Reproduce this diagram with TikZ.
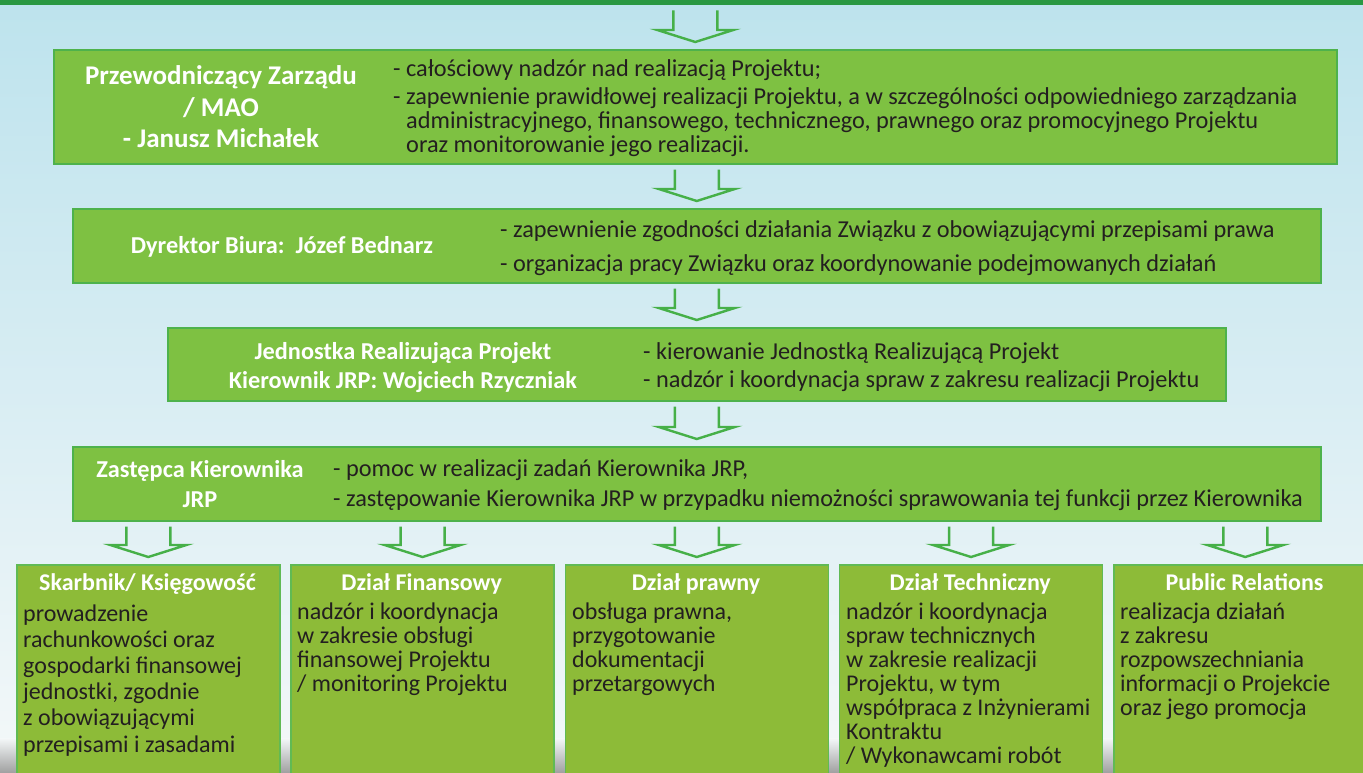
\documentclass[tikz,border=0pt]{standalone}
\usepackage{fontspec}
\setmainfont{Carlito}
\usetikzlibrary{calc}

\definecolor{boxgreen}{RGB}{126,193,66}
\definecolor{boxedge}{RGB}{78,178,76}
\definecolor{lowgreen}{RGB}{141,187,56}
\definecolor{lowedge}{RGB}{96,186,84}
\definecolor{arrowgreen}{RGB}{70,176,72}
\definecolor{bargreen}{RGB}{42,152,66}
\definecolor{darktext}{RGB}{35,31,32}
\definecolor{bgtop}{RGB}{189,227,237}
\definecolor{bgmid}{RGB}{216,237,243}
\definecolor{bgbottom}{RGB}{244,248,249}

% double-line arrow from one box down to the next
\newcommand{\flowarrow}[2]{%
  \draw[flow] ($(#2.north |- #1.south)+(-22,5)$) -- ($(#2.north)+(-22,-19)$) -- ++(-16,0)
    -- ($(#2.north)+(0,-7)$) -- ($(#2.north)+(38,-19)$) -- ++(-16,0)
    -- ($(#2.north |- #1.south)+(22,5)$);}

\begin{document}
\begin{tikzpicture}[x=1pt,y=-1pt,
    box/.style={draw=boxedge, line width=1.6pt, fill=boxgreen, inner sep=0pt, anchor=north west},
    lowbox/.style={box, draw=lowedge, fill=lowgreen, minimum width=263pt, minimum height=240pt},
    head/.style={anchor=base, align=center, text=white, inner sep=0pt},
    duty/.style={anchor=base west, align=left, text=darktext, inner sep=0pt, font=\fontsize{24.3}{24}\selectfont},
    lowhead/.style={anchor=base, text=white, inner sep=0pt, font=\bfseries\fontsize{24}{24}\selectfont},
    lowtext/.style={anchor=base west, align=left, text=darktext, inner sep=0pt, font=\fontsize{24}{24}\selectfont},
    flow/.style={draw=arrowgreen, line width=2.4pt, line join=miter}]
    \useasboundingbox (0,0) rectangle (1363,773);
    \clip (0,0) rectangle (1363,773);

    % background
    \shade[top color=bgtop, bottom color=bgbottom, middle color=bgmid] (0,0) rectangle (1363,773);
    \shade[top color=bgbottom, bottom color=gray!75] (0,738) rectangle (1363,773);
    \node[fill=bargreen, minimum width=1363pt, minimum height=5pt, inner sep=0pt, anchor=north west] (pasek) at (0,0) {};

    % main chain (multi-line texts sit on the baseline of their last line)
    \node[box, minimum width=1283pt, minimum height=114pt] (zarzad) at (53,49) {};
    \node[box, minimum width=1248pt, minimum height=74pt] (dyrektor) at (72,208) {};
    \node[box, minimum width=1058pt, minimum height=73pt] (jrp) at (167,327) {};
    \node[box, minimum width=1248pt, minimum height=74pt] (zastepca) at (72,446) {};

    \node[head, font=\bfseries\fontsize{27}{31.5}\selectfont] (zarzad-head) at (221,148) {Przewodniczący Zarządu\\/ MAO\\- Janusz Michałek};
    \node[duty] (zarzad-d1) at (393,77) {- całościowy nadzór nad realizacją Projektu;};
    \node[duty] (zarzad-d2) at (393,153) {- zapewnienie prawidłowej realizacji Projektu, a w szczególności odpowiedniego zarządzania\\
        \hspace*{13pt}administracyjnego, finansowego, technicznego, prawnego oraz promocyjnego Projektu\\
        \hspace*{13pt}oraz monitorowanie jego realizacji.};

    \node[head, font=\bfseries\fontsize{24.3}{30}\selectfont] (dyrektor-head) at (282,253) {Dyrektor Biura:~~Józef Bednarz};
    \node[duty] (dyrektor-d1) at (500,237) {- zapewnienie zgodności działania Związku z obowiązującymi przepisami prawa};
    \node[duty] (dyrektor-d2) at (500,271) {- organizacja pracy Związku oraz koordynowanie podejmowanych działań};

    \node[head, font=\bfseries\fontsize{24.3}{29}\selectfont] (jrp-head) at (403,388) {Jednostka Realizująca Projekt\\Kierownik JRP: Wojciech Rzyczniak};
    \node[duty] (jrp-d1) at (643,359) {- kierowanie Jednostką Realizującą Projekt};
    \node[duty] (jrp-d2) at (643,387) {- nadzór i koordynacja spraw z zakresu realizacji Projektu};

    \node[head, font=\bfseries\fontsize{24.3}{30}\selectfont] (zastepca-head) at (200,507) {Zastępca Kierownika\\JRP};
    \node[duty] (zastepca-d1) at (333,476) {- pomoc w realizacji zadań Kierownika JRP,};
    \node[duty] (zastepca-d2) at (333,506) {- zastępowanie Kierownika JRP w przypadku niemożności sprawowania tej funkcji przez Kierownika};

    % departments
    \node[lowbox] (skarbnik) at (16,564) {};
    \node[lowbox] (finanse) at (290.25,564) {};
    \node[lowbox] (prawny) at (564.5,564) {};
    \node[lowbox] (techniczny) at (838.75,564) {};
    \node[lowbox] (pr) at (1113,564) {};

    \node[lowhead] (skarbnik-head) at (147.5,590) {Skarbnik/ Księgowość};
    \node[lowhead] (finanse-head) at (421.75,590) {Dział Finansowy};
    \node[lowhead] (prawny-head) at (696,590) {Dział prawny};
    \node[lowhead] (techniczny-head) at (970.25,590) {Dział Techniczny};
    \node[lowhead] (pr-head) at (1244.5,590) {Public Relations};

    \node[lowtext, font=\fontsize{24}{26.2}\selectfont] (skarbnik-text) at (23,752) {prowadzenie\\rachunkowości oraz\\gospodarki finansowej\\jednostki, zgodnie\\z obowiązującymi\\przepisami i zasadami};
    \node[lowtext] (finanse-text) at (297,691) {nadzór i koordynacja\\w zakresie obsługi\\finansowej Projektu\\/ monitoring Projektu};
    \node[lowtext] (prawny-text) at (572,691) {obsługa prawna,\\przygotowanie\\dokumentacji\\przetargowych};
    \node[lowtext] (techniczny-text) at (846,763) {nadzór i koordynacja\\spraw technicznych\\w zakresie realizacji\\Projektu, w tym\\współpraca z Inżynierami\\Kontraktu\\/ Wykonawcami robót};
    \node[lowtext] (pr-text) at (1120,715) {realizacja działań\\z zakresu\\rozpowszechniania\\informacji o Projekcie\\oraz jego promocja};

    % arrows
    \flowarrow{pasek}{zarzad}
    \flowarrow{zarzad}{dyrektor}
    \flowarrow{dyrektor}{jrp}
    \flowarrow{jrp}{zastepca}
    \foreach \dzial in {skarbnik,finanse,prawny,techniczny,pr} {\flowarrow{zastepca}{\dzial}}
\end{tikzpicture}
\end{document}
